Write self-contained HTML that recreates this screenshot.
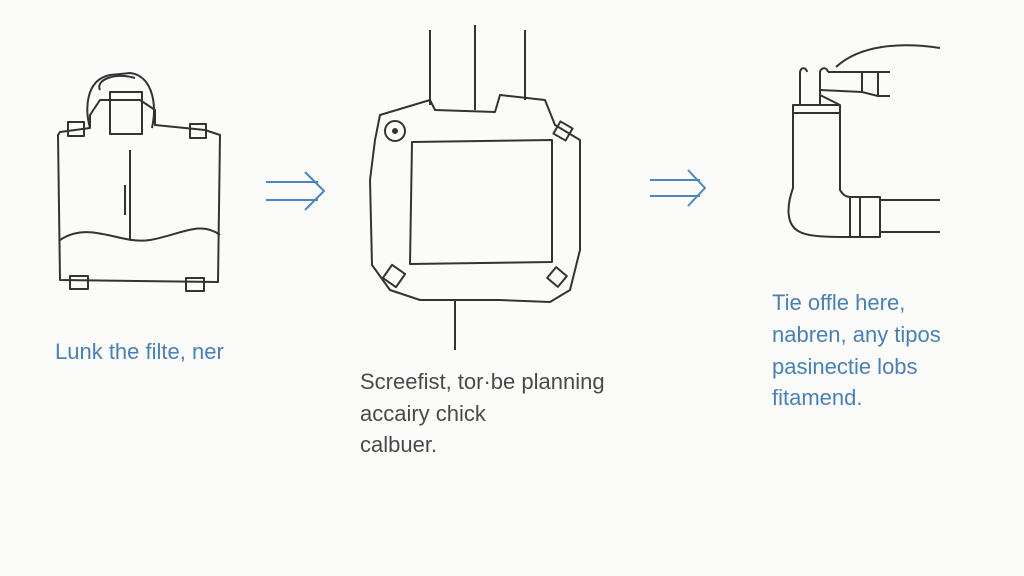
<!DOCTYPE html>
<html><head><style>
body{margin:0;width:1024px;height:576px;background:#fbfbfa;overflow:hidden;position:relative;font-family:"Liberation Sans",sans-serif}
.t{position:absolute;font-size:22px;white-space:nowrap}
.b{color:#4a80b5}.d{color:#4a4a4a}
</style></head><body>
<svg width="1024" height="576" style="position:absolute;left:0;top:0" fill="none" stroke="#333" stroke-width="2" stroke-linejoin="round">
<!-- left bag -->
<path d="M58 135 L60 280 L218 282 L220 135 L205 130 L155 125 L155 110 L140 100 L100 100 L90 115 L90 128 L60 132 Z"/>
<path d="M60 240 C90 220 120 245 150 240 C180 235 200 220 220 235"/>
<path d="M90 128 C85 110 85 80 110 75 L130 73 C150 75 158 100 152 128"/>
<path d="M100 90 C95 80 115 72 135 78"/>
<rect x="110" y="92" width="32" height="42"/>
<rect x="68" y="122" width="16" height="14"/>
<rect x="190" y="124" width="16" height="14"/>
<line x1="130" y1="150" x2="130" y2="240"/>
<line x1="125" y1="185" x2="125" y2="215"/>
<rect x="70" y="276" width="18" height="13"/>
<rect x="186" y="278" width="18" height="13"/>
<!-- middle -->
<line x1="430" y1="30" x2="430" y2="105"/>
<line x1="475" y1="25" x2="475" y2="110"/>
<line x1="525" y1="30" x2="525" y2="100"/>
<path d="M380 115 L430 100 L435 110 L495 112 L500 95 L545 100 L555 125 L580 140 L580 250 L575 270 L570 290 L550 302 L500 300 L420 300 L390 290 L372 265 L370 180 L375 140 Z"/>
<path d="M412 142 L552 140 L552 262 L410 264 Z"/>
<circle cx="395" cy="131" r="10"/><circle cx="395" cy="131" r="2" fill="#333"/>
<rect x="556" y="124" width="14" height="14" transform="rotate(30 563 131)"/>
<rect x="386" y="268" width="16" height="16" transform="rotate(35 394 276)"/>
<rect x="550" y="270" width="14" height="14" transform="rotate(40 557 277)"/>
<line x1="455" y1="300" x2="455" y2="350"/>
<!-- right -->
<path d="M800 106 L800 72 C801 67 806 67 807 72"/>
<path d="M820 106 L820 95 L820 72 C821 67 827 67 828 72"/>
<path d="M820 95 L840 105"/>
<path d="M828 72 L890 72 M820 90 L862 92 L878 96 L890 96 M862 72 L862 92 M878 72 L878 96"/>
<path d="M836 67 C860 45 900 42 940 48"/>
<rect x="793" y="105" width="47" height="8"/>
<path d="M793 113 L793 188 C787 205 785 225 800 232 C810 237 830 237 850 237"/>
<path d="M840 113 L840 190 C843 195 846 197 850 197"/>
<rect x="850" y="197" width="30" height="40"/>
<line x1="860" y1="197" x2="860" y2="237"/>
<line x1="880" y1="200" x2="940" y2="200"/>
<line x1="880" y1="232" x2="940" y2="232"/>
<!-- arrows -->
<g stroke="#4a86c0" stroke-width="2">
<path d="M266 182 L318 182 M266 200 L318 200 M305 172 L324 191 L305 210"/>
<path d="M650 180 L700 180 M650 196 L700 196 M688 170 L705 188 L688 206"/>
</g>
</svg>
<div class="t b" style="left:55px;top:339px">Lunk the filte, ner</div>
<div class="t d" style="left:360px;top:369px">Screefist, tor·be planning</div>
<div class="t d" style="left:360px;top:401px">accairy chick</div>
<div class="t d" style="left:360px;top:432px">calbuer.</div>
<div class="t b" style="left:772px;top:290px">Tie offle here,</div>
<div class="t b" style="left:772px;top:322px">nabren, any tipos</div>
<div class="t b" style="left:772px;top:354px">pasinectie lobs</div>
<div class="t b" style="left:772px;top:385px">fitamend.</div>
</body></html>
